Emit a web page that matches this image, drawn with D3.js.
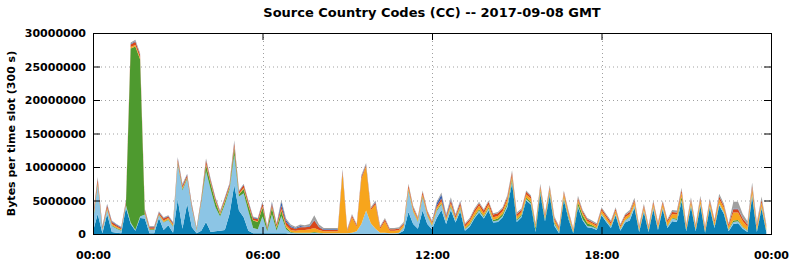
<!DOCTYPE html>
<html lang="en">
<meta charset="UTF-8">
<style>
    body{ margin:0; background:#fff; }
    text{ font-family:"DejaVu Sans",sans-serif; font-weight:bold; }
    .grid line{ stroke:#a0a0a0; stroke-dasharray:1,3; }
</style>
<body>
<div id="chart"></div>
<script src="https://cdn.jsdelivr.net/npm/d3@7"></script>
<script>
    // 10 minute slots over the day, values in millions of bytes per 300 s slot
    var ccTeal = [0.4,3.0,0.1,3.0,0.3,0.2,0.1,3.9,1.5,0.5,2.4,2.3,0.1,0.1,2.4,0.6,1.3,0.2,5.2,0.8,
        4.5,1.0,0.1,0.5,1.8,0.3,0.4,0.5,0.6,3.0,7.3,3.5,2.5,0.5,0.1,0.1,0.1,0.1,0.1,0.1,
        0.1,0.1,0,0,0,0,0,0,0,0,0,0,0,0,0,0,0,0,0,0,
        0,0,0,0,0,0.1,0.5,3.3,1.5,0.8,3.5,1.5,0.7,2.4,3.6,1.5,3.6,1.7,3.4,0.5,
        1.1,2.3,3.2,2.3,3.5,1.7,1.8,2.5,4.0,7.6,1.8,2.5,5.0,4.4,0.3,6.0,1.9,5.8,1.2,0.1,
        5.1,2.2,0.1,4.0,2.0,1.0,0.9,0.6,2.8,1.8,0.9,2.8,0.5,1.7,2.0,3.9,0.3,3.3,0.3,3.7,
        0.6,3.7,0.9,1.9,1.8,4.9,0.4,4.1,0.4,4.2,0.2,3.9,0.9,4.3,3.0,0.4,1.5,1.6,0.8,0.3,
        5.6,0.3,3.8,0.3];
    var ccLightBlue = [1.4,4.3,0.5,0.6,0.9,0.6,0.4,0.4,0.2,0.1,0.2,0.6,0.5,0.5,0.4,1.1,0.8,0.9,5.2,5.7,
        3.7,2.8,0.4,4.2,7.6,6.3,3.6,2.1,3.8,3.6,4.5,2.1,3.6,2.9,0.8,0.6,2.5,0.3,2.8,0.4,
        2.6,0.6,0.2,0.1,0.1,0.1,0.1,0.2,0.1,0.1,0.1,0.1,0.1,0.1,0.1,0.2,0.4,1.5,3.5,1.6,
        0.8,0.2,0.2,0.1,0.1,0.1,0.5,3.1,1.8,1.0,1.9,1.2,0.5,1.0,0.8,0.4,0.4,0.3,0.3,0.2,
        0.2,0.2,0.3,0.2,0.3,0.2,0.2,0.2,0.3,0.3,0.2,0.2,0.2,0.2,0.2,0.2,0.2,0.2,0.3,0.2,
        0.2,0.2,0.1,0.2,0.2,0.2,0.2,0.2,0.2,0.2,0.2,0.2,0.2,0.3,0.5,0.3,0.2,0.2,0.2,0.3,
        0.2,0.2,0.2,0.4,0.3,0.2,0.2,0.2,0.2,0.2,0.1,0.2,0.2,0.2,0.2,0.2,0.3,0.3,0.2,0.2,
        0.3,0.2,0.2,0.2];
    var ccGreen = [0.2,0.2,0.1,0.1,0.1,0.1,0.1,0.1,26.0,27.4,23.5,0.2,0.1,0.1,0.1,0.1,0.1,0.1,0.2,0.2,
        0.2,0.1,0.1,0.2,0.9,0.9,0.8,0.3,0.4,0.3,1.0,0.3,0.6,0.8,1.1,1.1,1.3,0.3,1.0,0.4,
        0.8,0.3,0.1,0.1,0.1,0.1,0.1,0.1,0.1,0,0,0,0,0,0,0,0,0,0,0,
        0,0,0,0,0,0,0.1,0.2,0.1,0.1,0.2,0.1,0.1,0.2,0.2,0.1,0.2,0.1,0.2,0.1,
        0.2,0.2,0.2,0.2,0.2,0.2,0.3,0.3,0.3,0.4,0.2,0.2,0.2,0.2,0.4,0.3,0.2,0.3,0.2,0.1,
        0.2,0.2,0.1,0.5,0.6,0.4,0.2,0.1,0.1,0.1,0.1,0.1,0.1,0.1,0.1,0.1,0.1,0.1,0.1,0.1,
        0.1,0.1,0.1,0.1,0.2,0.5,0.1,0.1,0.1,0.1,0.1,0.1,0.1,0.1,0.1,0.1,0.2,0.2,0.1,0.1,
        0.1,0.1,0.1,0.1];
    var ccOrange = [0.2,0.2,0.1,0.2,0.2,0.2,0.1,0.1,0.2,0.2,0.2,0.2,0.1,0.1,0.1,0.2,0.2,0.2,0.2,0.2,
        0.1,0.1,0.1,0.1,0.2,0.2,0.2,0.2,0.2,0.2,0.2,0.1,0.2,0.2,0.1,0.1,0.2,0.1,0.2,0.2,
        0.2,0.3,0.3,0.3,0.4,0.4,0.5,0.6,0.4,0.3,0.3,0.3,0.3,9.0,0.3,2.3,0.7,6.7,6.6,2.0,
        3.6,0.6,1.7,0.4,0.4,0.4,0.3,0.3,0.3,0.3,0.3,0.3,0.3,0.3,0.3,0.3,0.4,0.3,0.4,0.3,
        0.4,0.5,0.5,0.4,0.4,0.4,0.4,0.4,0.5,0.4,0.4,0.4,0.5,0.5,0.3,0.4,0.3,0.4,0.4,0.4,
        0.5,0.4,0.3,0.4,0.3,0.3,0.3,0.3,0.4,0.4,0.3,0.4,0.3,0.4,0.4,0.5,0.3,0.4,0.3,0.4,
        0.4,0.5,0.5,0.6,0.6,0.6,0.4,0.5,0.4,0.6,0.4,0.5,0.5,0.6,0.6,0.4,1.2,1.1,0.8,0.5,
        0.8,0.5,0.6,0.4];
    var ccRed = [0.4,0.5,0.2,0.4,0.3,0.2,0.2,0.3,0.4,0.5,0.4,0.3,0.2,0.2,0.2,0.3,0.2,0.2,0.4,0.3,
        0.3,0.3,0.1,0.3,0.5,0.3,0.3,0.2,0.3,0.3,0.6,0.3,0.4,0.4,0.3,0.3,0.5,0.2,0.4,0.3,
        0.5,0.5,0.4,0.3,0.4,0.4,0.4,1.1,0.4,0.2,0.2,0.2,0.2,0.3,0.2,0.3,0.2,0.3,0.2,0.2,
        0.3,0.2,0.3,0.2,0.2,0.2,0.2,0.4,0.3,0.2,0.4,0.3,0.2,0.3,0.4,0.3,0.4,0.3,0.4,0.3,
        0.3,0.4,0.4,0.4,0.4,0.4,0.4,0.4,0.4,0.5,0.4,0.3,0.4,0.3,0.2,0.3,0.3,0.3,0.3,0.2,
        0.3,0.3,0.1,0.3,0.3,0.3,0.2,0.2,0.3,0.3,0.3,0.3,0.2,0.3,0.3,0.3,0.2,0.3,0.2,0.3,
        0.3,0.3,0.3,0.3,0.3,0.4,0.2,0.3,0.2,0.3,0.2,0.3,0.3,0.4,0.3,0.3,0.5,0.5,0.4,0.3,
        0.4,0.3,0.4,0.2];
    var ccDarkBlue = [0.1,0.1,0.1,0.1,0.1,0.1,0.1,0.1,0.1,0.1,0.1,0.1,0.1,0.1,0.1,0.1,0.1,0.1,0.1,0.1,
        0.1,0.1,0.1,0.1,0.1,0.1,0.1,0.1,0.1,0.1,0.1,0.1,0.1,0.1,0.1,0.1,0.1,0.1,0.2,0.1,
        0.6,0.3,0.2,0.1,0.2,0.1,0.1,0.1,0.1,0.1,0.1,0.1,0.1,0.1,0,0,0,0.1,0.1,0,
        0.1,0,0,0,0,0,0,0,0,0,0,0,0,0.4,0.6,0.2,0.2,0.1,0.1,0,
        0,0,0,0,0,0,0,0,0,0,0,0,0,0,0,0,0,0,0,0,
        0,0,0,0,0,0,0,0,0,0,0,0,0,0,0,0,0,0,0,0,
        0,0,0,0,0,0,0,0,0,0,0,0,0,0,0,0,0.1,0.1,0,0,
        0,0,0,0];
    var ccGray = [0.2,0.2,0.1,0.1,0.1,0.1,0.1,0.1,0.2,0.2,0.2,0.1,0.1,0.1,0.1,0.1,0.1,0.1,0.2,0.2,
        0.1,0.1,0.1,0.1,0.2,0.1,0.1,0.1,0.1,0.1,0.3,0.1,0.1,0.1,0.1,0.1,0.2,0.1,0.2,0.1,
        0.3,0.2,0.2,0.2,0.2,0.2,0.3,0.7,0.3,0.2,0.2,0.2,0.2,0.2,0.2,0.2,0.2,0.2,0.2,0.2,
        0.2,0.2,0.2,0.2,0.2,0.2,0.2,0.2,0.2,0.2,0.2,0.2,0.2,0.2,0.3,0.2,0.3,0.2,0.2,0.2,
        0.2,0.2,0.2,0.2,0.2,0.2,0.2,0.2,0.3,0.3,0.2,0.2,0.2,0.2,0.2,0.3,0.2,0.3,0.2,0.2,
        0.2,0.2,0.2,0.3,0.2,0.2,0.2,0.2,0.2,0.2,0.2,0.2,0.2,0.2,0.3,0.3,0.2,0.2,0.2,0.2,
        0.2,0.2,0.2,0.3,0.3,0.3,0.2,0.3,0.2,0.3,0.2,0.3,0.2,0.4,0.3,0.2,1.0,1.0,0.7,0.5,
        0.5,0.4,0.5,0.3];

    var seriesNames = ["teal","lightblue","green","orange","red","darkblue","gray"];
    var seriesData = [ccTeal, ccLightBlue, ccGreen, ccOrange, ccRed, ccDarkBlue, ccGray];
    var seriesColors = ["#0b80b5","#8cc5e5","#4e9a2f","#f7a51c","#d9471a","#3a62b0","#a0a0a0"];
    var yTicks = [0,5000000,10000000,15000000,20000000,25000000,30000000];
    var slotMinutes = 10;
    var dayStart = Date.UTC(2017,8,8);

    var width = 792, height = 259;
    var margin = {top:33, right:21, bottom:25, left:93};
    var innerWidth = width-margin.left-margin.right;
    var innerHeight = height-margin.top-margin.bottom;

    var rows = ccTeal.map(function(d,i){
        var r = {t: new Date(dayStart + i*slotMinutes*60000)};
        seriesNames.forEach(function(k,j){ r[k] = seriesData[j][i]*1e6; });
        return r;
    });

    var svg = d3.select("#chart").append("svg")
        .attr("width", width)
        .attr("height", height);

    var x = d3.scaleUtc()
        .domain([new Date(dayStart), new Date(dayStart+86400000)])
        .range([0, innerWidth]);
    var y = d3.scaleLinear()
        .domain([0, 30000000])
        .range([innerHeight, 0]);
    var xTicks = d3.utcHour.every(6).range(x.domain()[0], new Date(dayStart+86400001));

    var g = svg.append("g")
        .attr("transform","translate("+margin.left+","+margin.top+")");

    // dotted grid
    var grid = g.append("g").attr("class","grid");
    grid.selectAll("line.h").data(yTicks.slice(1,-1)).enter().append("line")
        .attr("x1",0).attr("x2",innerWidth)
        .attr("y1",function(d){return y(d)+0.5;}).attr("y2",function(d){return y(d)+0.5;});
    grid.selectAll("line.v").data(xTicks.slice(1,-1)).enter().append("line")
        .attr("y1",0).attr("y2",innerHeight)
        .attr("x1",function(d){return Math.round(x(d))+0.5;}).attr("x2",function(d){return Math.round(x(d))+0.5;});

    var stack = d3.stack().keys(seriesNames);
    var area = d3.area()
        .x(function(d){return x(d.data.t);})
        .y0(function(d){return y(d[0]);})
        .y1(function(d){return y(d[1]);});

    g.append("g").selectAll("path")
        .data(stack(rows))
        .enter().append("path")
        .attr("fill", function(d,i){return seriesColors[i];})
        .attr("d", area);

    // axes, gnuplot style ticks pointing inward
    var fmtY = d3.format("d");
    var axLeft = g.append("g").call(d3.axisLeft(y).tickValues(yTicks).tickSize(-7).tickPadding(7).tickFormat(fmtY));
    var axRight = g.append("g").attr("transform","translate("+innerWidth+",0)")
        .call(d3.axisRight(y).tickValues(yTicks).tickSize(-7).tickFormat(""));
    var axBottom = g.append("g").attr("transform","translate(0,"+innerHeight+")")
        .call(d3.axisBottom(x).tickValues(xTicks).tickSize(-7).tickPadding(17).tickFormat(d3.utcFormat("%H:%M")));
    var axTop = g.append("g")
        .call(d3.axisTop(x).tickValues(xTicks).tickSize(-7).tickFormat(""));
    axRight.selectAll("text").remove();
    axTop.selectAll("text").remove();
    [axLeft,axRight,axBottom,axTop].forEach(function(a){
        a.select(".domain").remove();
        a.selectAll("line").attr("stroke","#000");
        a.selectAll("text").attr("font-size",11).attr("fill","#000")
            .style("font-family","DejaVu Sans").style("font-weight","bold");
    });

    g.append("rect")
        .attr("x",0.5).attr("y",0.5)
        .attr("width",innerWidth).attr("height",innerHeight)
        .attr("fill","none").attr("stroke","#000");

    svg.append("text")
        .attr("x", margin.left+innerWidth/2)
        .attr("y", 17)
        .attr("text-anchor","middle")
        .attr("font-size",13)
        .text("Source Country Codes (CC) -- 2017-09-08 GMT");

    svg.append("text")
        .attr("transform","translate(15,"+(margin.top+innerHeight/2)+") rotate(-90)")
        .attr("text-anchor","middle")
        .attr("font-size",11)
        .text("Bytes per time slot (300 s)");
</script>
</body>
</html>
